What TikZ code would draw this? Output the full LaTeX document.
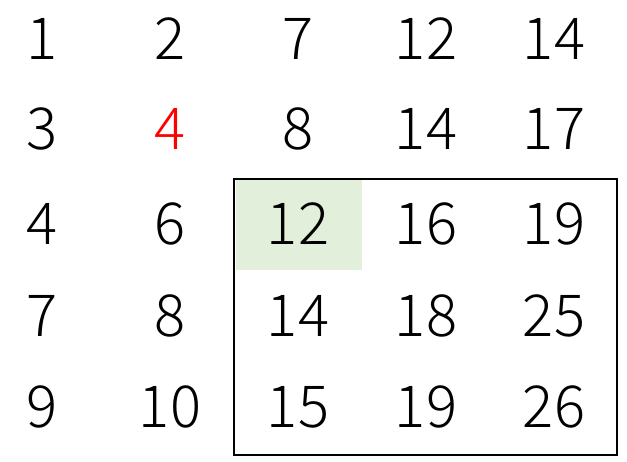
\documentclass[tikz,border=0pt]{standalone}
\usepackage{fontspec}
\setmainfont{Noto Sans CJK JP Light}
\definecolor{cellgreen}{HTML}{E2EFDA}
\definecolor{numred}{HTML}{FF0000}
\begin{document}
\begin{tikzpicture}[x=1pt,y=-1pt,
  num/.style={anchor=base,inner sep=0pt,font=\fontsize{58}{58}\selectfont},
  frame/.style={draw=black,line width=2pt}]
\useasboundingbox (0,0) rectangle (627,462);
\fill[cellgreen] (236,180) rectangle (362,270);
\coordinate (fa) at (234,179);
\coordinate (fb) at (617,455);
\draw[frame] (fa) rectangle (fb);
% row 1
\node[num] (n11) at (42,60) {1};
\node[num] (n12) at (170,60) {2};
\node[num] (n13) at (298,60) {7};
\node[num] (n14) at (426,60) {12};
\node[num] (n15) at (554,60) {14};
% row 2
\node[num] (n21) at (42,150) {3};
\node[num,text=numred] (n22) at (170,150) {4};
\node[num] (n23) at (298,150) {8};
\node[num] (n24) at (426,150) {14};
\node[num] (n25) at (554,150) {17};
% row 3
\node[num] (n31) at (42,245) {4};
\node[num] (n32) at (170,245) {6};
\node[num] (n33) at (298,245) {12};
\node[num] (n34) at (426,245) {16};
\node[num] (n35) at (554,245) {19};
% row 4
\node[num] (n41) at (42,337) {7};
\node[num] (n42) at (170,337) {8};
\node[num] (n43) at (298,337) {14};
\node[num] (n44) at (426,337) {18};
\node[num] (n45) at (554,337) {25};
% row 5
\node[num] (n51) at (42,428) {9};
\node[num] (n52) at (170,428) {10};
\node[num] (n53) at (298,428) {15};
\node[num] (n54) at (426,428) {19};
\node[num] (n55) at (554,428) {26};
\end{tikzpicture}
\end{document}
